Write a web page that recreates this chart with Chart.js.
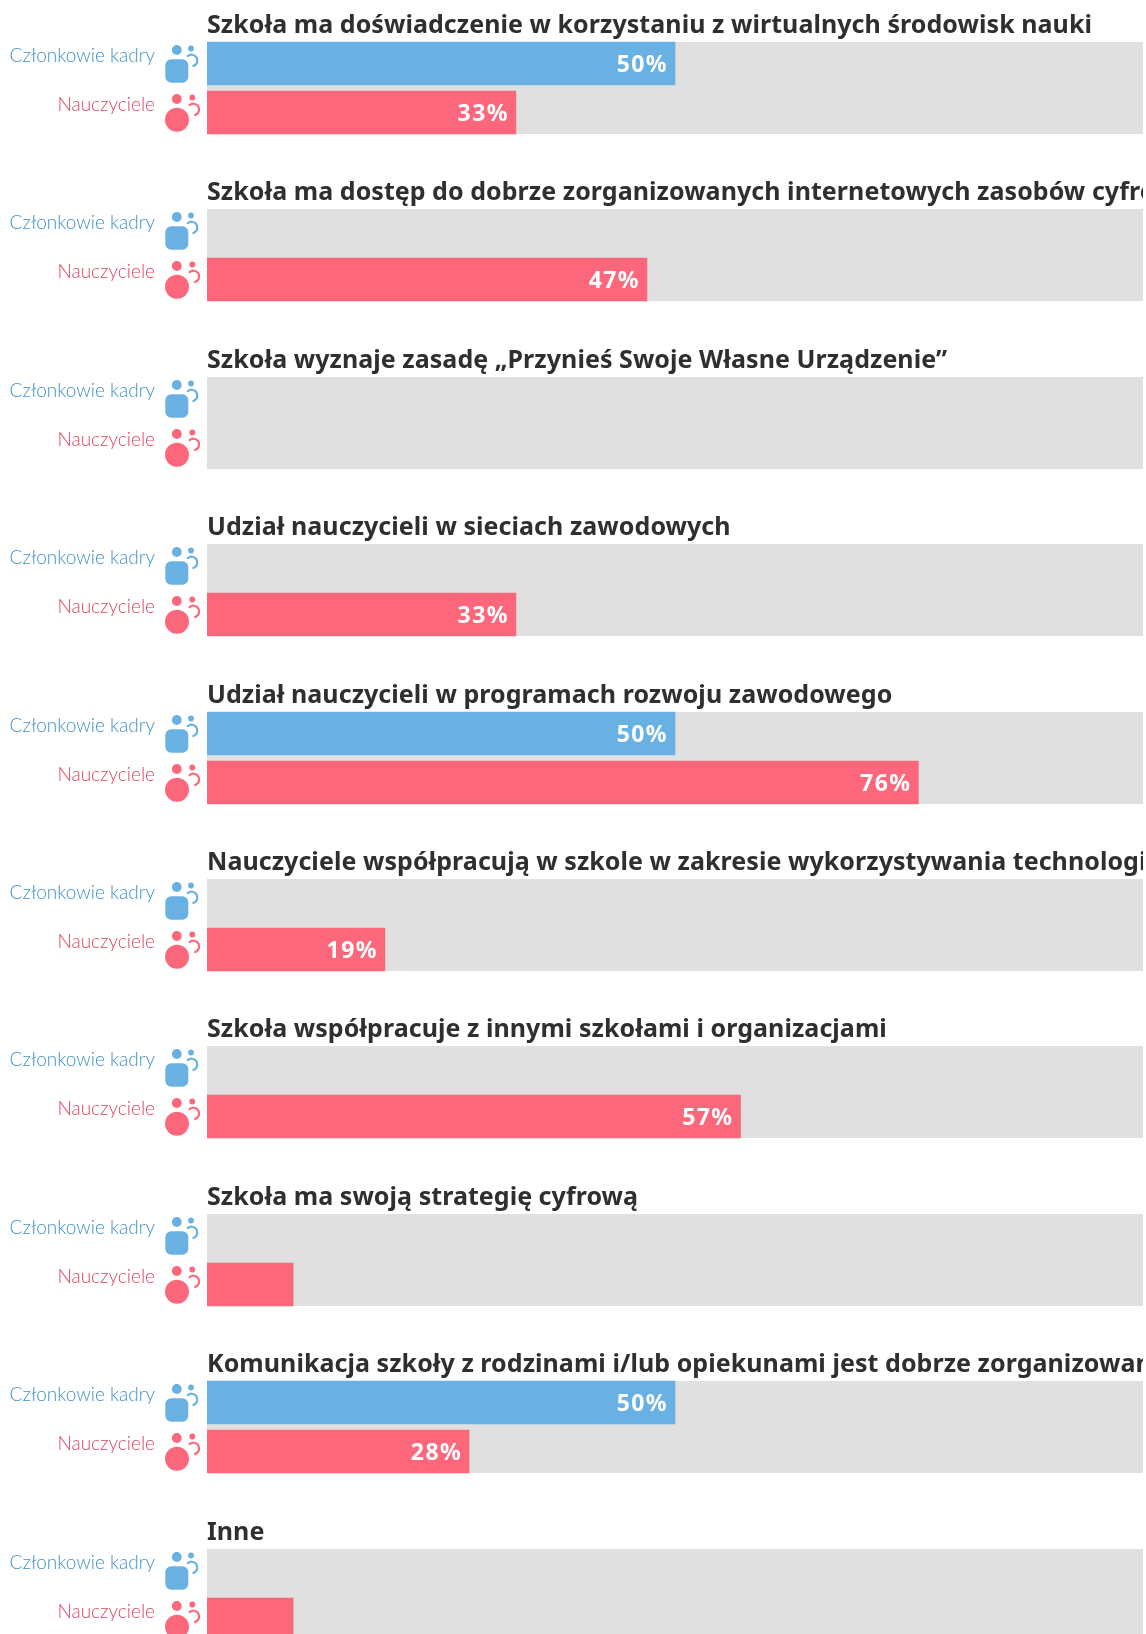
<!DOCTYPE html>
<html lang="pl">
<head>
<meta charset="utf-8">
<title>Wykres</title>
<script src="https://cdn.jsdelivr.net/npm/chart.js@4"></script>
<style>
  html,body{ margin:0; padding:0; background:#fff; }
  body{ position:relative; width:1146px; height:1634px; overflow:hidden; }
  canvas{ position:absolute; left:0; display:block; }
</style>
</head>
<body>
<script>
const titles = [
  'Szkoła ma doświadczenie w korzystaniu z wirtualnych środowisk nauki',
  'Szkoła ma dostęp do dobrze zorganizowanych internetowych zasobów cyfrowych',
  'Szkoła wyznaje zasadę „Przynieś Swoje Własne Urządzenie”',
  'Udział nauczycieli w sieciach zawodowych',
  'Udział nauczycieli w programach rozwoju zawodowego',
  'Nauczyciele współpracują w szkole w zakresie wykorzystywania technologii',
  'Szkoła współpracuje z innymi szkołami i organizacjami',
  'Szkoła ma swoją strategię cyfrową',
  'Komunikacja szkoły z rodzinami i/lub opiekunami jest dobrze zorganizowana',
  'Inne'
];
const rows = ['Członkowie kadry', 'Nauczyciele'];
const staffValues   = [50, null, null, null, 50, null, null, null, 50, null];
const teacherValues = [33, 47, null, 33, 76, 19, 57, 9.2, 28, 9.2];

const barColors = ['#6ab1e3', '#fc677b'];
const labelColors = ['#3f90c8', '#dc4460'];
const TRACK = '#e0e0e0';
const MIN_LABEL = 15; // krótkie słupki bez etykiety

// szare tło pod słupkami
const trackPlugin = {
  id:'track',
  beforeDraw(chart){
    const {ctx, chartArea} = chart;
    ctx.save();
    ctx.fillStyle = TRACK;
    ctx.fillRect(chartArea.left, chartArea.top + 3, chartArea.width, chartArea.height - 6);
    ctx.restore();
  }
};

// tytuł grupy nad słupkami, przycięty przez brzeg canvasa
const headingPlugin = {
  id:'heading',
  afterDraw(chart, args, opts){
    const {ctx, chartArea} = chart;
    ctx.save();
    ctx.fillStyle = '#2f2f2f';
    ctx.font = '700 25px "Noto Sans", sans-serif';
    ctx.letterSpacing = '0.06px';
    ctx.textAlign = 'left';
    ctx.textBaseline = 'middle';
    ctx.fillText(opts.text, chartArea.left, chartArea.top - 13);
    ctx.restore();
  }
};

// ikonki osób przy etykietach
function drawIcon(ctx, y, i){
  const c = barColors[i];
  const teacher = i===1;
  ctx.save();
  ctx.fillStyle = c;
  ctx.strokeStyle = c;
  ctx.beginPath(); ctx.arc(176.8, y - 13.5, 4.9, 0, Math.PI*2); ctx.fill();
  ctx.beginPath(); ctx.arc(teacher ? 192.3 : 191, y - 15, 2.9, 0, Math.PI*2); ctx.fill();
  ctx.beginPath();
  if(teacher){ ctx.arc(177, y + 7.2, 12, 0, Math.PI*2); }
  else { ctx.roundRect(165.3, y - 4.2, 23, 23.4, 6); }
  ctx.fill();
  ctx.lineWidth = 2.2;
  ctx.lineCap = 'round';
  ctx.beginPath();
  ctx.arc(teacher ? 193.3 : 191.5, y - 3, 5.8, -Math.PI*0.72, Math.PI*0.4);
  ctx.stroke();
  ctx.restore();
}
const iconPlugin = {
  id:'icons',
  afterDraw(chart){
    const yScale = chart.scales.y;
    rows.forEach((r,i)=> drawIcon(chart.ctx, yScale.getPixelForTick(i), i));
  }
};

// procenty na końcu słupka
const valuePlugin = {
  id:'values',
  afterDatasetsDraw(chart){
    const {ctx} = chart;
    const meta = chart.getDatasetMeta(0);
    const data = chart.data.datasets[0].data;
    ctx.save();
    ctx.fillStyle = '#fff';
    ctx.font = '700 23px "Noto Sans", sans-serif';
    ctx.letterSpacing = '1.4px';
    ctx.textAlign = 'right';
    ctx.textBaseline = 'middle';
    meta.data.forEach((bar,i)=>{
      if(data[i]===null || data[i] < MIN_LABEL) return;
      ctx.fillText(Math.round(data[i]) + '%', bar.x - 7, bar.y + 2);
    });
    ctx.restore();
  }
};

titles.forEach((title,i)=>{
  const cv = document.createElement('canvas');
  cv.width = 1143;
  cv.height = 30 + 98 + 14;
  cv.style.top = Math.round(41.95 + i*167.4 - 33) + 'px';
  document.body.appendChild(cv);
  new Chart(cv.getContext('2d'), {
    type:'bar',
    data:{
      labels: rows,
      datasets:[{
        data:[staffValues[i], teacherValues[i]],
        backgroundColor: barColors,
        borderWidth:0,
        barThickness:43
      }]
    },
    options:{
      indexAxis:'y',
      responsive:false,
      animation:false,
      layout:{ padding:{ top:30, bottom:14 } },
      plugins:{
        legend:{ display:false },
        tooltip:{ enabled:false },
        heading:{ text:title }
      },
      scales:{
        x:{ display:false, min:0, max:100 },
        y:{
          afterFit(scale){ scale.width = 207; },
          grid:{ display:false, drawTicks:true, tickLength:52 },
          border:{ display:false },
          ticks:{
            padding:0,
            labelOffset:-8,
            color:(c)=> labelColors[c.index],
            font:{ family:'Lato, sans-serif', size:19, weight:'300' }
          }
        }
      }
    },
    plugins:[trackPlugin, valuePlugin, iconPlugin, headingPlugin]
  });
});
</script>
</body>
</html>
